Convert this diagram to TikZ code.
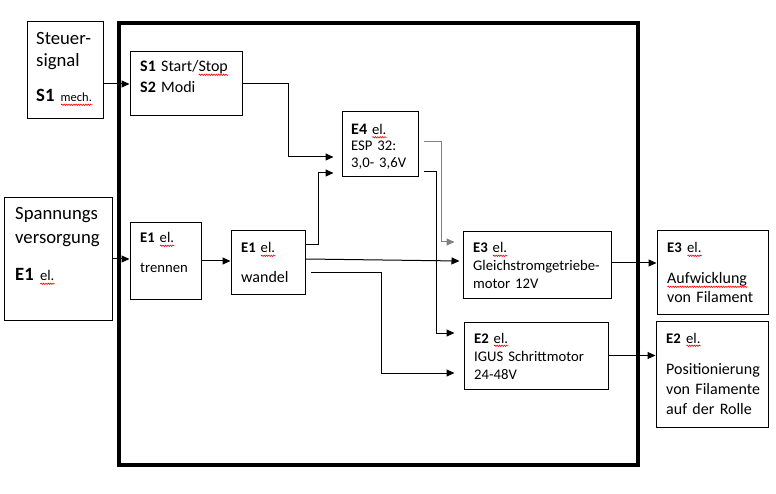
\documentclass[tikz,border=0pt]{standalone}
\usepackage{fontspec}
\setmainfont{Carlito}
\usetikzlibrary{arrows.meta,decorations.pathmorphing}

% red wavy underline, as the spell checker draws it
\newsavebox\spellbox
\newlength\spellwd
\newcommand\spell[1]{\sbox\spellbox{#1}\setlength\spellwd{\wd\spellbox}%
  \leavevmode\rlap{\usebox\spellbox}%
  \tikz[baseline=0pt]\draw[red, line width=0.6pt, decorate,
    decoration={snake, amplitude=0.7pt, segment length=2.4pt}]
    (0pt,-2.8pt) -- (\spellwd,-2.8pt);}

\begin{document}
\begin{tikzpicture}[x=1pt, y=-1pt, >={Triangle[length=8pt,width=7pt]},
  box/.style={draw, line width=1pt, inner sep=0pt},
  txt/.style={anchor=base west, inner sep=0pt, align=left, text width=160pt},
  wire/.style={line width=1pt}]

\useasboundingbox (0,0) rectangle (776,494);

% outer frame
\draw[line width=4pt] (118.5,23) rectangle (637.5,465);

\foreach \name/\x/\y/\w/\h in {steuer/65/70.5/76/97, s1s2/186/84/112/64,
    spann/58/259/108/122, trennen/165.5/261/71/76, wandel/268/262.5/74/63,
    e4/380/144.5/76/65, e3g/537/265/148/66, aufw/712.5/272.5/111/83,
    igus/536/355.5/144/67, pos/712/374/112/106}
  \node[box, minimum width=\w pt, minimum height=\h pt] (\name) at (\x,\y) {};

% texts
\node[txt, font=\fontsize{18.7}{22}\selectfont] (steuertxt) at (36,45)
  {Steuer-\\signal\\[13pt]\textbf{S1} {\fontsize{12.5}{14}\selectfont\spell{mech.}}};
\node[txt, font=\fontsize{16}{21}\selectfont] (s1s2txt) at (140,72)
  {\textbf{S1} Start/\spell{Stop}\\\textbf{S2} Modi};
\node[txt, font=\fontsize{18.7}{24}\selectfont] (spanntxt) at (15,220)
  {Spannungs\\versorgung\\[13pt]\textbf{E1} {\fontsize{14.7}{17}\selectfont\spell{el.}}};
\node[txt, font=\fontsize{14.7}{30}\selectfont] (trennentxt) at (140,243)
  {\textbf{E1} \spell{el.}\\trennen};
\node[txt, font=\fontsize{14.7}{30}\selectfont] (wandeltxt) at (241,253)
  {\textbf{E1} \spell{el.}\\{\fontsize{16}{19}\selectfont wandel}};
\node[txt, font=\fontsize{14.7}{16.3}\selectfont] (e4txt) at (351,134.5)
  {{\fontsize{16}{19}\selectfont\textbf{E4}} \spell{el.}\\ESP 32:\\3,0- 3,6V};
\node[txt, font=\fontsize{14.7}{18}\selectfont] (e3gtxt) at (473,253)
  {\textbf{E3} \spell{el.}\\Gleichstromgetriebe-\\motor 12V};
\node[txt, font=\fontsize{16}{19}\selectfont] (aufwtxt) at (667,253)
  {{\fontsize{14.7}{17}\selectfont\textbf{E3} \spell{el.}}\\[12pt]\spell{Aufwicklung}\\von Filament};
\node[txt, font=\fontsize{14.7}{18}\selectfont] (igustxt) at (474,343)
  {\textbf{E2} \spell{el.}\\IGUS Schrittmotor\\24-48V};
\node[txt, font=\fontsize{16}{20}\selectfont] (postxt) at (666,343)
  {{\fontsize{14.7}{17}\selectfont\textbf{E2} \spell{el.}}\\[11pt]Positionierung\\von Filamente\\auf der Rolle};

% free ends of the connectors
\coordinate (e4in1) at ([xshift=-8pt,yshift=-12.5pt]e4.west);
\coordinate (e4in2) at ([xshift=-8pt,yshift=-28.5pt]e4.west);
\coordinate (e3gin1) at ([xshift=-8pt,yshift=23pt]e3g.west);
\coordinate (e3gin2) at ([xshift=-3pt,yshift=4pt]e3g.west);
\coordinate (igusin1) at ([xshift=-9pt,yshift=22.5pt]igus.west);
\coordinate (igusin2) at ([xshift=-9pt,yshift=-17.5pt]igus.west);

% connectors
\draw[wire,->] (steuer.east |- s1s2.west) -- (s1s2.west);
\draw[wire,->] (s1s2.east) -- ++(46,0) |- (e4in1);
\draw[wire,->] (spann.east) -- (spann.east -| trennen.west);
\draw[wire,->] (trennen.east) -- (trennen.east -| wandel.west);
\draw[wire,->] ([yshift=17.5pt]wandel.east) -- ++(13,0) |- (e4in2);
\draw[wire,->] ([yshift=3.5pt]wandel.east) -- (e3gin2);
\draw[wire,->] ([xshift=5pt,yshift=-10.5pt]wandel.east) -- ++(71,0) |- (igusin2);
\draw[wire,->,gray] ([xshift=5pt,yshift=2.5pt]e4.east) -- ++(18,0) |- (e3gin1);
\draw[wire,->] ([xshift=5pt,yshift=-27.5pt]e4.east) -- ++(13,0) |- (igusin1);
\draw[wire,->] ([yshift=2pt]e3g.east) -- ([yshift=2pt]e3g.east -| aufw.west);
\draw[wire,->] (igus.east) -- (igus.east -| pos.west);
\end{tikzpicture}
\end{document}
